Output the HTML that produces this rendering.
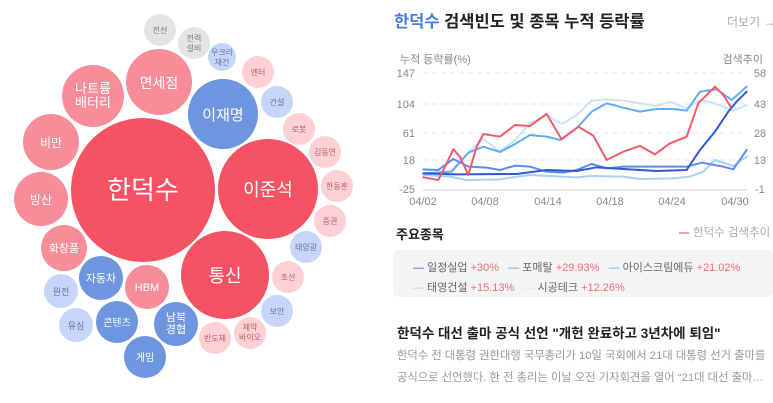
<!DOCTYPE html>
<html><head><meta charset="utf-8"><style>
body{margin:0;width:773px;height:403px;background:#fff;font-family:"Liberation Sans","Noto Sans CJK KR",sans-serif;overflow:hidden;position:relative}
.a{position:absolute;white-space:nowrap}
</style></head><body>
<svg class="a" style="left:0;top:0" width="380" height="403" font-family="Liberation Sans,Noto Sans CJK KR,sans-serif" text-anchor="middle">
<g fill="#f55263"><circle cx="143" cy="190" r="72"/><circle cx="268" cy="189" r="50"/><circle cx="225" cy="275" r="44"/></g>
<g fill="#f68d98"><circle cx="159" cy="82" r="33"/><circle cx="93" cy="96" r="31"/><circle cx="51" cy="142" r="28"/><circle cx="41" cy="199" r="27"/><circle cx="64" cy="248" r="23"/><circle cx="147" cy="287" r="22"/></g>
<g fill="#6e95e0"><circle cx="223" cy="114" r="35"/><circle cx="101" cy="278" r="22"/><circle cx="117" cy="322" r="21"/><circle cx="176" cy="324" r="22"/><circle cx="145" cy="357" r="21"/></g>
<g fill="#fdd1d3"><circle cx="258" cy="72" r="16"/><circle cx="299" cy="129" r="16"/><circle cx="325" cy="152" r="16"/><circle cx="337" cy="186" r="16"/><circle cx="330" cy="221" r="16"/><circle cx="288" cy="277" r="16"/><circle cx="215" cy="338" r="16"/><circle cx="250" cy="333" r="16"/></g>
<g fill="#c6d5f8"><circle cx="222" cy="57" r="14"/><circle cx="277" cy="102" r="16"/><circle cx="306" cy="247" r="16"/><circle cx="277" cy="311" r="16"/><circle cx="61" cy="291" r="17"/><circle cx="76" cy="325" r="17"/></g>
<g fill="#e4e4e4"><circle cx="160" cy="30" r="16"/><circle cx="194" cy="43" r="16"/></g>
<g fill="#fff">
<text x="143" y="199" font-size="26">한덕수</text>
<text x="268" y="196" font-size="18">이준석</text>
<text x="225" y="282" font-size="18">통신</text>
<text x="223" y="120" font-size="15">이재명</text>
<text x="159" y="88" font-size="14">면세점</text>
<text x="93" y="93" font-size="13">나트륨</text><text x="93" y="107" font-size="13">배터리</text>
<text x="51" y="147" font-size="12">비만</text>
<text x="41" y="204" font-size="12">방산</text>
<text x="64" y="252" font-size="11">화장품</text>
<text x="147" y="291" font-size="11">HBM</text>
<text x="101" y="282" font-size="11">자동차</text>
<text x="117" y="326" font-size="10">콘텐츠</text>
<text x="176" y="321" font-size="11">남북</text><text x="176" y="333" font-size="11">경협</text>
<text x="145" y="361" font-size="10">게임</text>
</g>
<g fill="#b85a64" font-size="8">
<text x="258" y="75">엔터</text><text x="299" y="132">로봇</text><text x="325" y="155">김동연</text><text x="337" y="189">한동훈</text><text x="330" y="224">증권</text><text x="288" y="280">조선</text><text x="215" y="341">반도체</text><text x="250" y="330">제약</text><text x="250" y="340">바이오</text>
</g>
<g fill="#5f74a8" font-size="8">
<text x="222" y="55">우크라</text><text x="222" y="65">재건</text><text x="277" y="105">건설</text><text x="306" y="250">태양광</text><text x="277" y="314">보안</text><text x="61" y="295" font-size="9">원전</text><text x="76" y="329" font-size="9">유심</text>
</g>
<g fill="#777" font-size="8"><text x="160" y="33">전선</text><text x="194" y="41">전력</text><text x="194" y="51">설비</text></g>
</svg>

<div class="a" style="left:394px;top:8px;font-size:16.5px;font-weight:bold;color:#222"><span style="color:#4a7ce8">한덕수</span> 검색빈도 및 종목 누적 등락률</div>
<div class="a" style="left:727px;top:13px;font-size:12px;color:#aaa">더보기 →</div>

<svg class="a" style="left:390px;top:40px" width="383" height="180" font-family="Liberation Sans,Noto Sans CJK KR,sans-serif">
<g font-size="11" fill="#888">
<text x="10" y="23">누적 등락률(%)</text><text x="373" y="23" text-anchor="end">검색추이</text>
<g text-anchor="end"><text x="25" y="37">147</text><text x="25" y="68">104</text><text x="25" y="97">61</text><text x="25" y="124">18</text><text x="25" y="153">-25</text></g>
<g text-anchor="middle"><text x="370" y="37">58</text><text x="370" y="68">43</text><text x="370" y="97">28</text><text x="370" y="124">13</text><text x="370" y="153">-1</text></g>
<g text-anchor="middle"><text x="33" y="165">04/02</text><text x="95" y="165">04/08</text><text x="158" y="165">04/14</text><text x="220" y="165">04/18</text><text x="282" y="165">04/24</text><text x="345" y="165">04/30</text></g>
</g>
<g stroke="#e4e4e4" stroke-dasharray="5,4"><line x1="33" x2="357" y1="33" y2="33"/><line x1="33" x2="357" y1="64" y2="64"/><line x1="33" x2="357" y1="93" y2="93"/><line x1="33" x2="357" y1="120" y2="120"/></g>
<line x1="33" x2="357" y1="150" y2="150" stroke="#ccc"/>
<g transform="scale(0.3333)" fill="none" stroke-width="6" stroke-linejoin="round" stroke-linecap="round">
<polyline stroke="#cde3f8" points="100,402 180,395 235,338 280,297 330,335 375,300 420,250 470,225 515,252 560,225 605,182 650,178 700,182 750,190 800,198 840,185 890,205 930,180 975,190 1030,212 1070,195"/>
<polyline stroke="#a8d2f8" points="100,405 180,410 230,420 330,418 380,410 420,405 560,412 600,408 700,410 750,417 850,415 900,410 940,395 975,360 1030,378 1070,350"/>
<polyline stroke="#61aef5" points="100,400 185,395 235,338 280,320 330,336 375,312 420,285 470,290 510,300 560,265 605,215 650,190 700,203 750,215 800,207 850,207 890,212 930,155 980,148 1025,180 1070,140"/>
<polyline stroke="#5c8cf0" points="100,388 145,390 190,357 235,380 290,383 330,390 375,377 420,380 470,395 520,398 560,390 605,372 650,385 700,380 800,380 890,380 935,368 1000,380 1030,388 1070,330"/>
<polyline stroke="#2d5bd0" points="100,400 200,403 380,402 470,390 560,393 620,382 700,387 800,393 890,390 930,330 975,275 1015,215 1040,185 1070,155"/>
<polyline stroke="#f45b6a" points="100,412 145,420 165,380 190,328 210,350 235,405 260,320 280,282 330,290 375,255 420,258 470,222 515,298 565,260 610,287 650,360 700,335 750,318 795,343 840,310 890,290 925,190 945,170 975,140 1000,165 1022,200"/>
</g>
</svg>

<div class="a" style="left:396px;top:224px;font-size:13px;font-weight:bold;color:#222">주요종목</div>
<div class="a" style="left:679px;top:224px;font-size:11.5px;color:#aaa"><span style="display:inline-block;width:10px;height:2px;background:#f89aa3;vertical-align:middle;margin-right:4px"></span>한덕수 검색추이</div>
<div class="a" style="left:393px;top:250px;width:380px;height:47px;background:#f4f4f5;border-radius:6px"></div>
<div class="a" style="left:413px;top:258px;font-size:11px;color:#666;line-height:20px">
<span style="color:#2d5bd0">—</span> 일정실업 <span style="color:#f56b78">+30%</span>&nbsp;&nbsp;&nbsp;<span style="color:#5c8cf0">—</span> 포메탈 <span style="color:#f56b78">+29.93%</span>&nbsp;&nbsp;&nbsp;<span style="color:#61aef5">—</span> 아이스크림에듀 <span style="color:#f56b78">+21.02%</span><br>
<span style="color:#a8d2f8">—</span> 태영건설 <span style="color:#f56b78">+15.13%</span>&nbsp;&nbsp;&nbsp;<span style="color:#cde3f8">—</span> 시공테크 <span style="color:#f56b78">+12.26%</span></div>
<div class="a" style="left:397px;top:322px;font-size:13.5px;font-weight:bold;color:#222">한덕수 대선 출마 공식 선언 "개헌 완료하고 3년차에 퇴임"</div>
<div class="a" style="left:397px;top:345px;font-size:11.3px;color:#999;line-height:22px">한덕수 전 대통령 권한대행 국무총리가 10일 국회에서 21대 대통령 선거 출마를<br>공식으로 선언했다. 한 전 총리는 이날 오전 기자회견을 열어 “21대 대선 출마…</div>
</body></html>
